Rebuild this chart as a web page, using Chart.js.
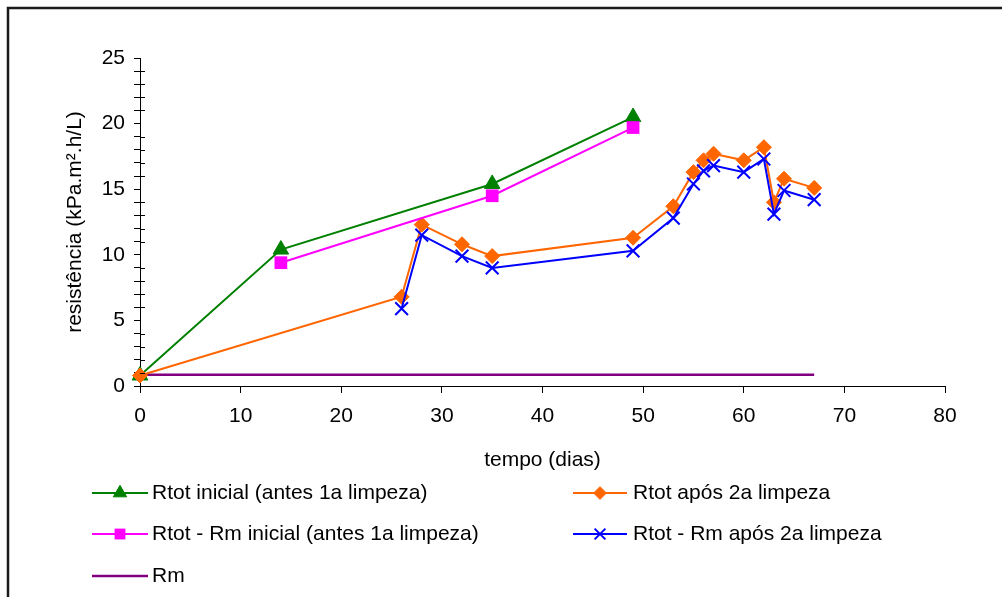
<!DOCTYPE html>
<html>
<head>
<meta charset="utf-8">
<script src="https://cdn.jsdelivr.net/npm/chart.js@4/dist/chart.umd.min.js"></script>
<style>
  html, body { margin: 0; padding: 0; background: #fff; }
  canvas { display: block; }
</style>
</head>
<body>
<canvas id="grafico" width="1002" height="597"></canvas>
<script>
// dados (tempo em dias, resistência em kPa.m².h/L)
const diasInicial = [0, 14, 35, 49];
const rtotInicial = [0.8, 10.4, 15.4, 20.5];

const diasRmInicial = [14, 35, 49];
const rtotRmInicial = [9.4, 14.5, 19.7];

const diasApos = [0, 26, 28, 32, 35, 49, 53, 55, 56, 57, 60, 62, 63, 64, 67];
const rtotApos = [0.8, 6.8, 12.3, 10.8, 9.9, 11.3, 13.7, 16.3, 17.2, 17.7, 17.2, 18.2, 14.0, 15.8, 15.1];

const diasRmApos = [26, 28, 32, 35, 49, 53, 55, 56, 57, 60, 62, 63, 64, 67];
const rtotRmApos = [5.9, 11.5, 9.9, 9.0, 10.3, 12.8, 15.4, 16.4, 16.8, 16.3, 17.3, 13.1, 14.9, 14.2];

const diasRm = [0, 26, 28, 32, 35, 49, 53, 55, 56, 57, 60, 62, 63, 64, 67];
const valoresRm = [0.85, 0.85, 0.85, 0.85, 0.85, 0.85, 0.85, 0.85, 0.85, 0.85, 0.85, 0.85, 0.85, 0.85, 0.85];

const nomesSeries = [
  'Rtot inicial (antes 1a limpeza)',
  'Rtot após 2a limpeza',
  'Rtot - Rm inicial (antes 1a limpeza)',
  'Rtot - Rm após 2a limpeza',
  'Rm'
];

function pontos(xs, ys) {
  return xs.map((x, i) => ({ x: x, y: ys[i] }));
}

Chart.defaults.font.family = '"Liberation Sans", Arial, sans-serif';
Chart.defaults.font.size = 21;
Chart.defaults.color = '#000';

// moldura do gráfico (só topo e esquerda aparecem no recorte)
const moldura = {
  id: 'moldura',
  beforeDraw(chart) {
    const ctx = chart.ctx;
    ctx.save();
    ctx.fillStyle = '#fff';
    ctx.fillRect(0, 0, chart.width, chart.height);
    ctx.strokeStyle = '#1a1a1a';
    ctx.lineWidth = 2.5;
    ctx.beginPath();
    ctx.moveTo(8, chart.height);
    ctx.lineTo(8, 8);
    ctx.lineTo(chart.width, 8);
    ctx.stroke();
    ctx.restore();
  }
};

// marcas secundárias do eixo y cruzam o eixo (estilo Excel)
const marcasMenores = {
  id: 'marcasMenores',
  afterDraw(chart) {
    const y = chart.scales.y;
    const ctx = chart.ctx;
    ctx.save();
    ctx.strokeStyle = '#000';
    ctx.lineWidth = 1;
    ctx.beginPath();
    y.ticks.forEach(t => {
      if (t.value % 5 !== 0) {
        const py = Math.round(y.getPixelForValue(t.value)) + 0.5;
        ctx.moveTo(y.right, py);
        ctx.lineTo(y.right + 5, py);
      }
    });
    ctx.stroke();
    ctx.restore();
  }
};

// legenda em duas colunas, como no Excel
const legenda = {
  id: 'legendaExcel',
  afterDraw(chart) {
    const ctx = chart.ctx;
    const colunas = [{ x0: 92, x1: 148, tx: 152 }, { x0: 573, x1: 627, tx: 633 }];
    const linhas = [493, 534, 576];
    chart.data.datasets.forEach((ds, i) => {
      const c = colunas[i % 2];
      const y = linhas[Math.floor(i / 2)];
      ctx.save();
      ctx.strokeStyle = ds.borderColor;
      ctx.lineWidth = ds.borderWidth;
      ctx.beginPath();
      ctx.moveTo(c.x0, y);
      ctx.lineTo(c.x1, y);
      ctx.stroke();
      if (ds.pointRadius > 0) {
        ctx.fillStyle = ds.pointBackgroundColor;
        ctx.strokeStyle = ds.pointBorderColor;
        ctx.lineWidth = ds.pointBorderWidth;
        Chart.helpers.drawPoint(ctx, {
          pointStyle: ds.pointStyle,
          radius: ds.pointRadius * 0.85,
          rotation: 0,
          borderWidth: ds.pointBorderWidth
        }, (c.x0 + c.x1) / 2, y);
      }
      ctx.fillStyle = '#000';
      ctx.font = '21px "Liberation Sans", Arial, sans-serif';
      ctx.textBaseline = 'middle';
      ctx.textAlign = 'left';
      ctx.fillText(ds.label, c.tx, y);
      ctx.restore();
    });
  }
};

new Chart(document.getElementById('grafico'), {
  type: 'line',
  data: {
    datasets: [
      {
        label: nomesSeries[0],
        data: pontos(diasInicial, rtotInicial),
        order: 5,
        borderColor: '#008000', borderWidth: 2,
        pointStyle: 'triangle', pointRadius: 9,
        pointBackgroundColor: '#008000', pointBorderColor: '#008000', pointBorderWidth: 1
      },
      {
        label: nomesSeries[1],
        data: pontos(diasApos, rtotApos),
        order: 4,
        borderColor: '#ff6600', borderWidth: 2,
        pointStyle: 'rectRot', pointRadius: 7.5,
        pointBackgroundColor: '#ff6600', pointBorderColor: '#ff6600', pointBorderWidth: 1
      },
      {
        label: nomesSeries[2],
        data: pontos(diasRmInicial, rtotRmInicial),
        order: 3,
        borderColor: '#ff00ff', borderWidth: 2,
        pointStyle: 'rect', pointRadius: 9,
        pointBackgroundColor: '#ff00ff', pointBorderColor: '#ff00ff', pointBorderWidth: 0
      },
      {
        label: nomesSeries[3],
        data: pontos(diasRmApos, rtotRmApos),
        order: 2,
        borderColor: '#0000ff', borderWidth: 2,
        pointStyle: 'crossRot', pointRadius: 9,
        pointBackgroundColor: '#0000ff', pointBorderColor: '#0000ff', pointBorderWidth: 2
      },
      {
        label: nomesSeries[4],
        data: pontos(diasRm, valoresRm),
        order: 6,
        borderColor: '#800080', borderWidth: 2.5,
        pointRadius: 0, pointBorderWidth: 0
      }
    ]
  },
  options: {
    responsive: false,
    animation: false,
    events: [],
    layout: { padding: { left: 0, top: 58, right: 57, bottom: 121 } },
    plugins: { legend: { display: false }, tooltip: { enabled: false } },
    elements: { line: { tension: 0 } },
    datasets: { line: { clip: false } },
    scales: {
      x: {
        type: 'linear', min: 0, max: 80,
        afterFit: (s) => { s.height = 90; },
        border: { display: true, color: '#000', width: 1 },
        grid: { drawOnChartArea: false, drawTicks: true, tickLength: 7, color: '#000' },
        ticks: { stepSize: 10, autoSkip: false, padding: 11, maxRotation: 0 },
        title: { display: true, text: 'tempo (dias)', padding: { top: 0, bottom: 3 } }
      },
      y: {
        min: 0, max: 25,
        afterFit: (s) => { s.width = 140; },
        border: { display: true, color: '#000', width: 1 },
        grid: { drawOnChartArea: false, drawTicks: true, tickLength: 6, color: '#000' },
        ticks: {
          stepSize: 1, autoSkip: false, padding: 9,
          callback: (v) => (v % 5 === 0 ? v : '')
        },
        title: { display: true, text: 'resistência (kPa.m².h/L)', padding: { top: 63, bottom: 0 } }
      }
    }
  },
  plugins: [moldura, marcasMenores, legenda]
});
</script>
</body>
</html>
